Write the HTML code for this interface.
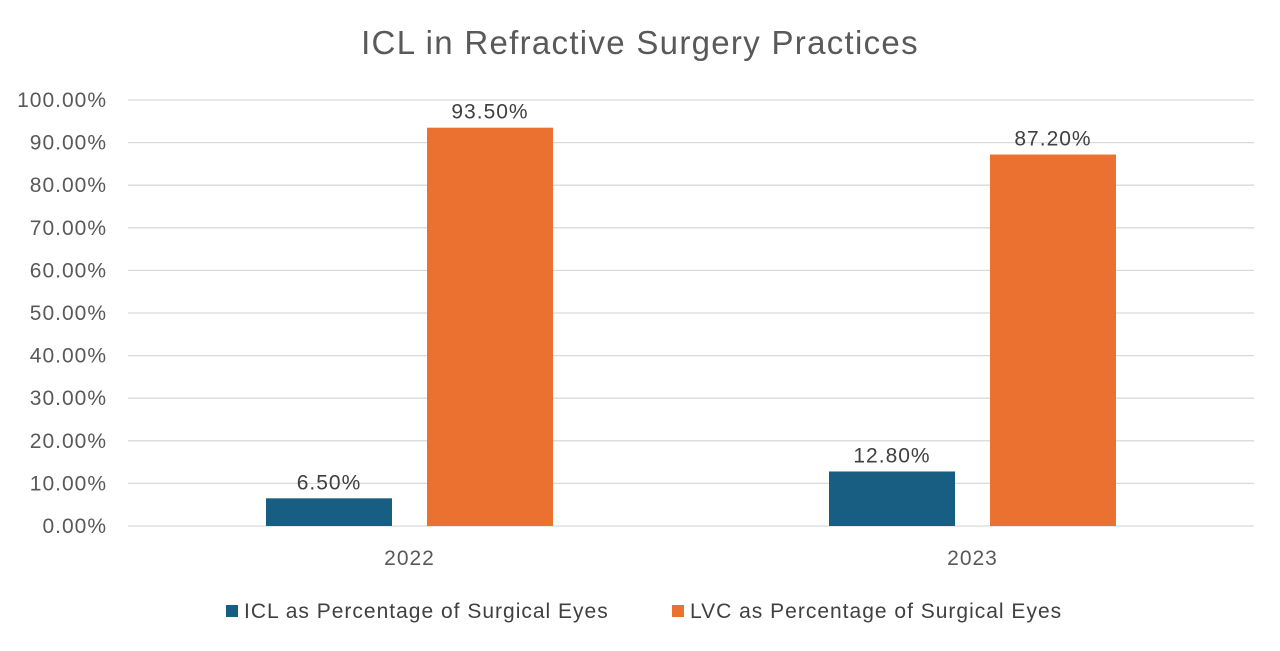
<!DOCTYPE html>
<html><head><meta charset="utf-8"><style>
body{margin:0;background:#fff;}
svg{display:block;font-family:"Liberation Sans",Arial,sans-serif;}
</style></head><body>
<svg id="chart" width="1280" height="651">
<text x="640" y="54" text-anchor="middle" font-size="33" letter-spacing="1.3" fill="#595959">ICL in Refractive Surgery Practices</text>
<g id="grid"></g><g id="bars"></g><g id="labels"></g>
<g>
<rect x="226" y="605" width="12" height="12" fill="#175E82"/>
<text x="244" y="618" font-size="21" letter-spacing="1" fill="#404040">ICL as Percentage of Surgical Eyes</text>
<rect x="672" y="605" width="12" height="12" fill="#EA7130"/>
<text x="690" y="618" font-size="21" letter-spacing="1" fill="#404040">LVC as Percentage of Surgical Eyes</text>
</g>
</svg>
<script>
const categories=["2022","2023"];
const iclValues=[6.5,12.8];
const lvcValues=[93.5,87.2];
const yTicks=[0,10,20,30,40,50,60,70,80,90,100];
const NS="http://www.w3.org/2000/svg";
const left=128,right=1254,y0=526,y100=100;
const y=v=>y0-(v/100)*(y0-y100);
const catW=(right-left)/categories.length;
const cx=i=>left+catW*(i+0.5);
function mk(t,a,p){const e=document.createElementNS(NS,t);for(const k in a)e.setAttribute(k,a[k]);p.appendChild(e);return e;}
const grid=document.getElementById('grid'),bars=document.getElementById('bars'),labels=document.getElementById('labels');
yTicks.forEach(t=>{
 const l=mk('line',{x1:left,x2:right,y1:y(t),y2:y(t),stroke:'#d9d9d9','stroke-width':1.3},grid);
 
 
 const tx=mk('text',{x:107,y:y(t)+7,'text-anchor':'end','font-size':21,'letter-spacing':1,fill:'#595959'},grid);
 tx.textContent=t.toFixed(2)+'%';
 
 
});
const bw=126,gap=35;
const series=[{vals:iclValues,col:'#175E82',off:-(gap/2+bw/2),n:'icl'},{vals:lvcValues,col:'#EA7130',off:gap/2+bw/2,n:'lvc'}];
categories.forEach((c,i)=>{
 series.forEach(s=>{
  const v=s.vals[i],x=cx(i)+s.off-bw/2;
  const r=mk('rect',{x:x,y:y(v),width:bw,height:y0-y(v),fill:s.col},bars);
  
  
  const t=mk('text',{x:x+bw/2,y:y(v)-9,'text-anchor':'middle','font-size':21,'letter-spacing':1,fill:'#404040'},labels);
  t.textContent=v.toFixed(2)+'%';
  
  
 });
 const ct=mk('text',{x:cx(i),y:565,'text-anchor':'middle','font-size':21,'letter-spacing':1,fill:'#595959'},labels);
 ct.textContent=c;
 
 
});
</script>
</body></html>
